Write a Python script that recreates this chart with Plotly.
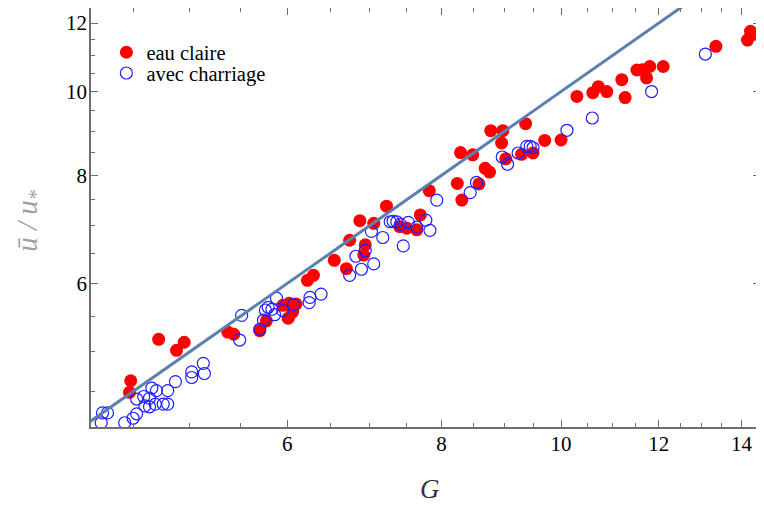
import plotly.graph_objects as go

# ---- data (G, u/u*) ----
eau_G = [4.48, 4.47, 4.72, 4.88, 4.95, 5.37, 5.43, 5.70, 5.77, 5.95,
         6.02, 6.01, 6.06, 6.10, 6.23, 6.30, 6.55, 6.70, 6.74, 6.92,
         6.94, 6.87, 7.05, 7.22, 7.40, 7.50, 7.64, 7.69, 7.82, 8.24,
         8.31, 8.29, 8.48, 8.58, 8.68, 8.75, 8.77, 8.97, 8.95, 9.02,
         9.29, 9.36, 9.49, 9.70, 10.00, 10.30, 10.61, 10.72, 10.89, 11.20,
         11.27, 11.52, 11.64, 11.80, 11.73, 12.10, 13.35, 14.16, 14.24, 14.36]
eau_U = [4.63, 4.49, 5.17, 5.02, 5.13, 5.27, 5.24, 5.29, 5.43, 5.66,
         5.69, 5.47, 5.56, 5.68, 6.05, 6.13, 6.38, 6.24, 6.73, 6.47,
         6.65, 7.09, 7.04, 7.37, 6.98, 6.95, 6.92, 7.20, 7.68, 7.83,
         7.49, 8.50, 8.45, 7.82, 8.15, 8.07, 9.01, 9.01, 8.72, 8.36,
         8.46, 9.18, 8.49, 8.78, 8.79, 9.87, 9.97, 10.13, 10.00, 10.32,
         9.84, 10.59, 10.60, 10.69, 10.37, 10.69, 11.28, 11.47, 11.74, 11.65]

charr_G = [4.24, 4.25, 4.29, 4.43, 4.50, 4.53, 4.53, 4.59, 4.60, 4.64,
           4.66, 4.64, 4.70, 4.69, 4.76, 4.80, 4.80, 4.87, 5.02, 5.02,
           5.13, 5.14, 5.51, 5.49, 5.70, 5.74, 5.76, 5.83, 5.86, 5.88,
           5.79, 5.95, 6.07, 6.25, 6.26, 6.39, 6.74, 6.82, 6.89, 6.94,
           7.05, 7.02, 7.17, 7.27, 7.31, 7.36, 7.41, 7.52, 7.45, 7.64,
           7.77, 7.83, 7.93, 8.44, 8.54, 8.96, 9.05, 9.23, 9.38, 9.44,
           9.49, 10.11, 10.60, 11.84, 13.09]
charr_U = [4.14, 4.25, 4.25, 4.14, 4.19, 4.24, 4.41, 4.44, 4.33, 4.32,
           4.54, 4.42, 4.51, 4.35, 4.35, 4.35, 4.51, 4.62, 4.74, 4.67,
           4.85, 4.72, 5.51, 5.16, 5.31, 5.44, 5.59, 5.60, 5.52, 5.77,
           5.63, 5.58, 5.67, 5.70, 5.78, 5.83, 6.13, 6.45, 6.23, 6.55,
           6.32, 6.89, 6.78, 7.07, 7.08, 7.07, 7.02, 7.06, 6.63, 6.97,
           7.10, 6.91, 7.49, 7.64, 7.85, 8.40, 8.24, 8.49, 8.64, 8.64,
           8.61, 9.02, 9.32, 10.00, 11.05]

line_G = [4.0, 13.0]
line_U = [4.0, 13.0]

x_major = [6, 8, 10, 12, 14]
x_minor = [4.5, 5, 5.5, 6.5, 7, 7.5, 8.5, 9, 9.5, 10.5, 11, 11.5, 12.5, 13, 13.5]
y_major = [6, 8, 10, 12]
y_minor = [4.5, 5, 5.5, 6.5, 7, 7.5, 8.5, 9, 9.5, 10.5, 11, 11.5]

label_eau = "eau claire"
label_charr = "avec charriage"

serif = "'Liberation Serif', 'Times New Roman', Times, serif"
axis_col = "#6e6e6e"

fig = go.Figure()
fig.add_trace(go.Scatter(
    x=eau_G, y=eau_U, mode="markers", name=label_eau, legend="legend",
    marker=dict(symbol="circle", size=13, color="#ff0000", line=dict(width=0)),
))
fig.add_trace(go.Scatter(
    x=charr_G, y=charr_U, mode="markers", name=label_charr, legend="legend2",
    marker=dict(symbol="circle-open", size=12, color="#1f1fff", line=dict(width=1.2, color="#1f1fff")),
))
fig.add_trace(go.Scatter(
    x=line_G, y=line_U, mode="lines", showlegend=False,
    line=dict(color="#5b7fae", width=3),
))

axis_common = dict(
    type="log", showgrid=False, zeroline=False, automargin=False,
    showline=True, linecolor=axis_col, linewidth=1.5, mirror="allticks",
    ticks="inside", ticklen=7, tickwidth=1.2, tickcolor=axis_col,
    tickfont=dict(family=serif, size=21, color="#000"),
)

# the page body keeps its default 8px margin, so the figure is sized to sit
# inside the 764x505 window starting at (8, 8)
fig.update_layout(
    width=756, height=497,
    margin=dict(l=83, r=4, t=0, b=78, autoexpand=False),
    paper_bgcolor="white", plot_bgcolor="white",
    font=dict(family=serif),
    xaxis=dict(**axis_common, range=[0.6191, 1.1612],
               tickmode="array", tickvals=x_major, ticktext=[str(v) for v in x_major],
               ticklabelstandoff=-3,
               minor=dict(tickmode="array", tickvals=x_minor, ticks="inside", ticklen=4,
                          tickwidth=1, tickcolor=axis_col, showgrid=False)),
    yaxis=dict(**axis_common, range=[0.6121, 1.0966],
               tickmode="array", tickvals=y_major, ticktext=[str(v) for v in y_major],
               ticklabelstandoff=-2,
               minor=dict(tickmode="array", tickvals=y_minor, ticks="inside", ticklen=4,
                          tickwidth=1, tickcolor=axis_col, showgrid=False)),
    legend=dict(x=0.023, y=0.894, xanchor="left", yanchor="middle",
                bgcolor="rgba(0,0,0,0)", borderwidth=0,
                font=dict(family=serif, size=20.5, color="#000")),
    legend2=dict(x=0.023, y=0.8445, xanchor="left", yanchor="middle",
                 bgcolor="rgba(0,0,0,0)", borderwidth=0,
                 font=dict(family=serif, size=20.5, color="#000")),
    annotations=[
        dict(text="<i>G</i>", xref="paper", yref="paper", x=0.5067, y=-0.149,
             showarrow=False, xanchor="center", yanchor="middle",
             font=dict(family=serif, size=27, color="#333")),
        dict(text="<i>ū / u<sub>*</sub></i>", xref="paper", yref="paper", x=-0.093, y=0.494,
             showarrow=False, xanchor="center", yanchor="middle", textangle=-90,
             font=dict(family=serif, size=29, color="#a0a0a0")),
    ],
)

fig.write_html("out.html")
